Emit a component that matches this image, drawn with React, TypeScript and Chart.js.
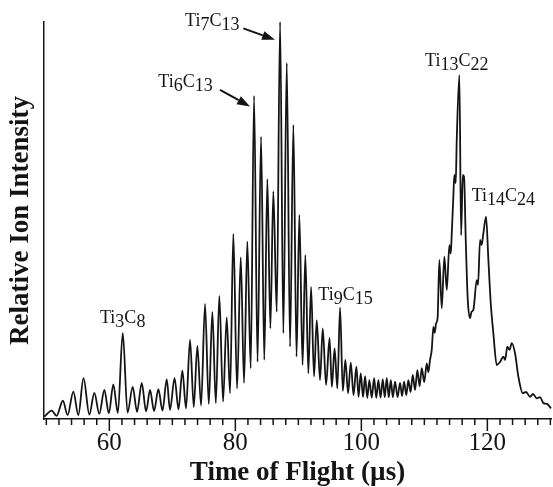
import React, { useEffect, useRef } from 'react';
import { Chart, registerables } from 'chart.js';

Chart.register(...registerables);

// Time of flight (µs) of each vertex of the trace (peak tips and valleys)
const timeOfFlight = [
  49.7, 50.86, 51.62, 52.63, 53.37, 54.29, 55.08, 55.9, 56.83, 57.62,
  58.41, 59.21, 59.92, 60.63, 61.35, 62.13, 62.89, 63.71, 64.4, 65.14,
  65.83, 66.46, 67.1, 67.78, 68.44, 69.11, 69.63, 70.35, 70.98, 71.59,
  72.17, 72.81, 73.4, 73.97, 74.56, 75.19, 75.78, 76.35, 76.9, 77.46,
  78.05, 78.63, 79.16, 79.68, 80.27, 80.86, 81.38, 81.9, 82.44, 82.97,
  83.52, 84.08, 84.59, 85.08, 85.56, 86.03, 86.57, 87.1, 87.62, 88.16,
  88.68, 89.21, 89.71, 90.16, 90.67, 91.11, 91.59, 92.02, 92.49, 92.92,
  93.44, 93.87, 94.4, 94.95, 95.32, 95.75, 96.19, 96.62, 97.06, 97.46,
  97.89, 98.32, 98.76, 99.21, 99.56, 99.9, 100.27, 100.59, 100.94, 101.27,
  101.65, 102.02, 102.37, 102.7, 103.05, 103.4, 103.71, 104.03, 104.35, 104.67,
  105.0, 105.35, 105.75, 106.14, 106.46, 106.78, 107.13, 107.46, 107.81, 108.16,
  108.52, 108.89, 109.24, 109.59, 109.98, 110.38, 110.63, 110.9, 111.17, 111.43,
  111.65, 111.86, 112.1, 112.38, 112.76, 113.17, 113.56, 113.97, 114.19, 114.35,
  114.6, 114.76, 114.98, 115.14, 115.56, 115.83, 116.1, 116.3, 116.57, 116.89,
  117.25, 117.49, 117.78, 118.32, 118.52, 118.84, 119.08, 119.37, 119.79, 120.16,
  120.54, 120.95, 121.49, 122.02, 122.54, 122.81, 123.17, 123.52, 123.87, 124.4,
  124.92, 125.62, 126.14, 126.78, 127.25, 127.84, 128.37, 128.89, 129.48, 130.1,
];

// Relative ion intensity (% of the Ti7C13 peak) at each vertex
const intensity = [
  0.6, 2.1, 0.8, 4.6, 1.0, 6.9, 1.0, 10.3, 1.1, 6.6,
  1.3, 7.3, 1.4, 8.7, 1.5, 21.7, 1.6, 8.1, 1.8, 9.1,
  1.9, 7.3, 2.0, 7.5, 2.1, 10.0, 2.3, 10.3, 2.4, 12.2,
  2.7, 19.9, 3.0, 18.4, 3.4, 29.0, 3.8, 27.0, 4.0, 31.0,
  4.4, 25.6, 6.5, 46.6, 7.7, 40.7, 9.1, 44.7, 12.8, 81.4,
  14.4, 71.1, 14.9, 60.4, 22.8, 57.3, 27.0, 100, 21.6, 89.7,
  18.2, 74.1, 15.7, 51.4, 13.6, 41.3, 11.5, 33.3, 10.7, 24.9,
  9.8, 22.8, 8.6, 20.4, 8.1, 17.8, 7.7, 28.1, 7.1, 14.9,
  6.5, 14.2, 6.0, 13.2, 5.6, 11.5, 5.5, 10.8, 5.3, 9.8,
  5.4, 10.3, 5.3, 9.8, 5.4, 10.0, 5.5, 10.3, 5.5, 9.8,
  5.5, 9.4, 5.5, 9.1, 5.8, 9.4, 6.0, 9.8, 6.8, 11.1,
  7.3, 12.3, 8.3, 12.8, 9.3, 14.0, 11.8, 14.9, 17.4, 23.2,
  21.7, 24.1, 25.4, 40.1, 27.9, 40.9, 32.5, 43.8, 41.7, 46.8,
  56.0, 61.5, 59.4, 70.3, 86.6, 46.3, 61.5, 61.0, 45.1, 30.0,
  25.4, 27.0, 27.5, 35.0, 33.8, 45.1, 43.8, 46.8, 51.0, 40.1,
  29.1, 21.6, 13.6, 14.4, 15.7, 14.9, 18.2, 17.4, 19.1, 16.5,
  10.7, 6.5, 6.8, 5.6, 6.3, 5.2, 5.5, 4.0, 3.8, 2.7,
];

const xTickValues = [60, 80, 100, 120];
const minorTickStart = 50;
const minorTickEnd = 130;
const minorTickStep = 2;
const xMin = 49.63;
const xMax = 130.1;
const yMin = 0;
const yMax = 100;

// Peak annotations: text parts (digits lowered), anchored at left/baseline in data units
const peakLabels: { parts: [string, boolean][]; t: number; i: number }[] = [
  { parts: [['Ti', false], ['3', true], ['C', false], ['8', true]], t: 58.52, i: 24.3 },
  { parts: [['Ti', false], ['6', true], ['C', false], ['13', true]], t: 67.78, i: 83.6 },
  { parts: [['Ti', false], ['7', true], ['C', false], ['13', true]], t: 72.02, i: 99.0 },
  { parts: [['Ti', false], ['9', true], ['C', false], ['15', true]], t: 93.17, i: 30.0 },
  { parts: [['Ti', false], ['13', true], ['C', false], ['22', true]], t: 110.11, i: 89.0 },
  { parts: [['Ti', false], ['14', true], ['C', false], ['24', true]], t: 117.52, i: 54.9 },
];

const arrows = [
  { from: [77.57, 82.9], to: [82.33, 78.7] },
  { from: [81.27, 98.4], to: [86.3, 95.5] },
];

const INK = '#141414';
const SERIF = "'Liberation Serif', 'Times New Roman', serif";

const decorations = {
  id: 'decorations',
  afterDraw(chart: any) {
    const { ctx, chartArea } = chart;
    const x = chart.scales.x;
    const y = chart.scales.y;
    ctx.save();
    ctx.strokeStyle = INK;
    ctx.fillStyle = INK;
    ctx.lineWidth = 1.5;
    // x tick marks (minor every 2 µs, longer at labelled ticks)
    for (let v = minorTickStart; v <= minorTickEnd + 1e-9; v += minorTickStep) {
      const px = x.getPixelForValue(v);
      const len = xTickValues.includes(v) ? 12 : 6;
      ctx.beginPath();
      ctx.moveTo(px, chartArea.bottom);
      ctx.lineTo(px, chartArea.bottom + len);
      ctx.stroke();
    }
    // peak labels
    ctx.font = `18px ${SERIF}`;
    ctx.textBaseline = 'alphabetic';
    ctx.textAlign = 'left';
    for (const lab of peakLabels) {
      let px = x.getPixelForValue(lab.t);
      const py = y.getPixelForValue(lab.i);
      for (const [txt, sub] of lab.parts) {
        ctx.fillText(txt, px, sub ? py + 4 : py);
        px += ctx.measureText(txt).width;
      }
    }
    // arrows
    ctx.lineWidth = 2;
    for (const a of arrows) {
      const x0 = x.getPixelForValue(a.from[0]);
      const y0 = y.getPixelForValue(a.from[1]);
      const x1 = x.getPixelForValue(a.to[0]);
      const y1 = y.getPixelForValue(a.to[1]);
      const ang = Math.atan2(y1 - y0, x1 - x0);
      const headLen = 13;
      const headW = 4.5;
      const bx = x1 - headLen * Math.cos(ang);
      const by = y1 - headLen * Math.sin(ang);
      ctx.beginPath();
      ctx.moveTo(x0, y0);
      ctx.lineTo(bx, by);
      ctx.stroke();
      ctx.beginPath();
      ctx.moveTo(x1, y1);
      ctx.lineTo(bx + headW * Math.sin(ang), by - headW * Math.cos(ang));
      ctx.lineTo(bx - headW * Math.sin(ang), by + headW * Math.cos(ang));
      ctx.closePath();
      ctx.fill();
    }
    ctx.restore();
  },
};

export default function App() {
  const ref = useRef<HTMLCanvasElement>(null);
  useEffect(() => {
    document.body.style.margin = '0';
    const points = timeOfFlight.map((t, k) => ({ x: t, y: intensity[k] }));
    const chart = new Chart(ref.current as HTMLCanvasElement, {
      type: 'line',
      data: {
        datasets: [
          {
            data: points,
            borderColor: INK,
            borderWidth: 1.8,
            pointRadius: 0,
            cubicInterpolationMode: 'monotone',
            fill: false,
            clip: false as any,
          },
        ],
      },
      options: {
        animation: false,
        responsive: false,
        devicePixelRatio: 1,
        layout: { padding: { top: 22, right: 2, left: 0, bottom: 0 } },
        plugins: { legend: { display: false }, tooltip: { enabled: false } },
        scales: {
          x: {
            type: 'linear',
            min: xMin,
            max: xMax,
            afterBuildTicks: (s: any) => {
              s.ticks = xTickValues.map((v) => ({ value: v }));
            },
            afterFit: (s: any) => {
              s.height = 68;
            },
            grid: { display: false, drawTicks: false },
            border: { display: true, color: INK, width: 1.5 },
            ticks: {
              color: INK,
              font: { family: SERIF, size: 25, lineHeight: 1 },
              padding: 12,
              maxRotation: 0,
              autoSkip: false,
            },
            title: {
              display: true,
              text: 'Time of Flight (µs)',
              color: INK,
              font: { family: SERIF, size: 27, weight: 'bold', lineHeight: 1 },
              padding: { top: 0, bottom: 0 },
            },
          },
          y: {
            min: yMin,
            max: yMax,
            afterFit: (s: any) => {
              s.width = 44;
            },
            grid: { display: false, drawTicks: false },
            border: { display: true, color: INK, width: 1.5 },
            ticks: { display: false },
            title: {
              display: true,
              text: 'Relative Ion Intensity',
              color: INK,
              font: { family: SERIF, size: 27, weight: 'bold', lineHeight: 1 },
              padding: { top: 7.5, bottom: 0 },
            },
          },
        },
      },
      plugins: [decorations],
    });
    return () => chart.destroy();
  }, []);
  return (
    <div style={{ width: 553, height: 487 }}>
      <canvas ref={ref} width={553} height={487} style={{ display: 'block' }} />
    </div>
  );
}
